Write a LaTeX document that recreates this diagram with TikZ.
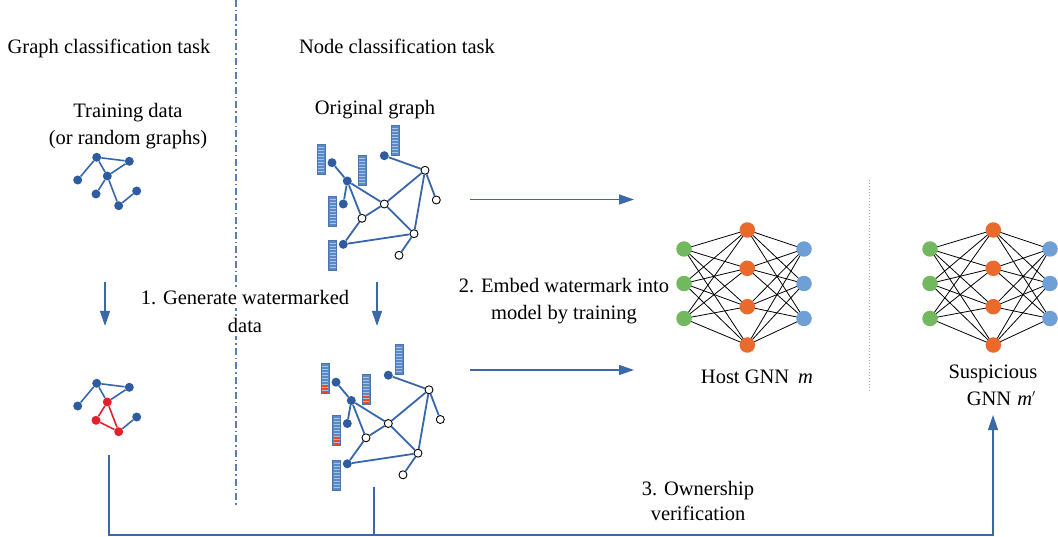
\documentclass[tikz,border=0pt]{standalone}
\usepackage{fontspec}
\setmainfont{Liberation Serif}
\usetikzlibrary{arrows.meta,calc,backgrounds}
\definecolor{gblue}{HTML}{3767AA}
\definecolor{gnode}{HTML}{2F5C9E}
\definecolor{arrblue}{HTML}{3A68A8}
\definecolor{barfill}{HTML}{5A89C8}
\definecolor{barline}{HTML}{A9C2E6}
\definecolor{barred}{HTML}{F0471C}
\definecolor{wred}{HTML}{E3202C}
\definecolor{nngreen}{HTML}{72B85F}
\definecolor{nnorange}{HTML}{EA6A2C}
\definecolor{nnblue}{HTML}{6E9FD6}
\definecolor{sepblue}{HTML}{5A7FAE}
\newcommand{\featbar}[3]{%
  \fill[barfill] (#1,#2) rectangle ++(8,30);
  \ifnum#3>0 \fill[barred] (#1+1,#2+30-3*#3) rectangle (#1+7,#2+29);\fi
  \foreach \k in {1,...,9}{\draw[barline, line width=0.6pt] (#1+1,#2+3*\k) -- (#1+7,#2+3*\k);}
  \draw[barfill!85!black, line width=0.6pt] (#1,#2) rectangle ++(8,30);
}
\newcommand{\origgraph}[2]{% prefix, red cells
  \featbar{317.3}{144}{#2}
  \featbar{391.3}{125.3}{0}
  \featbar{358.3}{155}{#2}
  \featbar{328.7}{196}{#2}
  \featbar{328.7}{240.3}{0}
  \node[fnode] (#1A) at (332,162.7) {};
  \node[fnode] (#1B) at (347.3,181) {};
  \node[fnode] (#1C) at (343.3,204) {};
  \node[fnode] (#1D) at (384.3,155.7) {};
  \node[fnode] (#1E) at (343.3,244.3) {};
  \node[wnode] (#1F) at (425,170.3) {};
  \node[wnode] (#1G) at (384.3,204) {};
  \node[wnode] (#1H) at (362,218.3) {};
  \node[wnode] (#1I) at (436.3,200) {};
  \node[wnode] (#1J) at (414,233.7) {};
  \node[wnode] (#1K) at (399,255.3) {};
  \draw[gedge] (#1A) -- (#1B);
  \draw[gedge] (#1B) -- (#1C);
  \draw[gedge] (#1B) -- (#1G);
  \draw[gedge] (#1B) -- (#1H);
  \draw[gedge] (#1D) -- (#1F);
  \draw[gedge] (#1F) -- (#1G);
  \draw[gedge] (#1F) -- (#1I);
  \draw[gedge] (#1F) -- (#1J);
  \draw[gedge] (#1G) -- (#1H);
  \draw[gedge] (#1G) -- (#1J);
  \draw[gedge] (#1H) -- (#1E);
  \draw[gedge] (#1E) -- (#1J);
  \draw[gedge] (#1J) -- (#1K);
}
\newcommand{\nnet}[2]{% prefix, x of input layer
  \foreach \i/\yy in {1/249,2/283.5,3/318.5}{
    \node[nnn, fill=nngreen] (#1g\i) at (#2,\yy) {};
    \node[nnn, fill=nnblue] (#1b\i) at (#2+120,\yy) {};
  }
  \foreach \j/\yy in {1/230,2/268.3,3/306.7,4/345}{
    \node[nnn, fill=nnorange] (#1o\j) at (#2+63.3,\yy) {};
  }
  \begin{scope}[on background layer]
  \foreach \i in {1,2,3}{\foreach \j in {1,2,3,4}{
    \draw[nnedge] (#1g\i.center) -- (#1o\j.center);
    \draw[nnedge] (#1o\j.center) -- (#1b\i.center);
  }}
  \end{scope}
}
\begin{document}
\begin{tikzpicture}[x=1pt,y=-1pt,
  txt/.style={font=\rmfamily\fontsize{20.5}{27.5}\selectfont, inner sep=0pt, anchor=base},
  fnode/.style={circle, fill=gnode, inner sep=0pt, minimum size=9pt},
  wnode/.style={circle, fill=white, draw=black, line width=0.9pt, inner sep=0pt, minimum size=8pt},
  rnode/.style={circle, fill=wred, inner sep=0pt, minimum size=9pt},
  gedge/.style={draw=gblue, line width=1.8pt},
  ledge/.style={draw=gblue, line width=1.6pt},
  redge/.style={draw=wred, line width=1.6pt},
  nnn/.style={circle, inner sep=0pt, minimum size=15.5pt},
  nnedge/.style={draw=black, line width=0.8pt},
  flow/.style={draw=arrblue, line width=1.3pt, -{Triangle[length=15pt,width=10pt]}},
  vline/.style={draw=arrblue, line width=1.3pt},
  cover/.style={fill=white, inner xsep=1pt, inner ysep=3pt},
]
\useasboundingbox (0,0) rectangle (1058,537);
% separators
\coordinate (sepT) at (236,0);
\coordinate (sepB) at (236,505);
\draw[sepblue, line width=1.5pt, dash pattern=on 7pt off 3pt on 1.5pt off 3pt] (sepT) -- (sepB);
\coordinate (dotT) at (869,180);
\coordinate (dotB) at (869,392);
\draw[gray!70, line width=0.9pt, dash pattern=on 1pt off 2pt] (dotT) -- (dotB);

% titles
\node[txt] (t1) at (109,54) {Graph classification task};
\node[txt] (t2) at (397,54) {Node classification task};
\node[txt] (td1) at (128,118) {Training data};
\node[txt] (td2) at (128,145) {(or random graphs)};
\node[txt] (og) at (375,115) {Original graph};

% left graph (top)
\node[fnode] (la) at (96.7,157.3) {};
\node[fnode] (lb) at (129.3,161.3) {};
\node[fnode] (lc) at (77.7,180) {};
\node[fnode] (ld) at (107.3,176) {};
\node[fnode] (le) at (96,194) {};
\node[fnode] (lf) at (136.7,191) {};
\node[fnode] (lg) at (118.7,205.7) {};
\draw[ledge] (la) -- (lb);
\draw[ledge] (la) -- (lc);
\draw[ledge] (la) -- (ld);
\draw[ledge] (lb) -- (ld);
\draw[ledge] (ld) -- (le);
\draw[ledge] (ld) -- (lg);
\draw[ledge] (lg) -- (lf);

% left graph (watermarked)
\node[fnode] (wa) at (96.7,383.3) {};
\node[fnode] (wb) at (129.3,387.3) {};
\node[fnode] (wc) at (77.7,406) {};
\node[rnode] (wd) at (107.3,402) {};
\node[rnode] (we) at (96,420.3) {};
\node[fnode] (wf) at (136.7,417) {};
\node[rnode] (wg) at (118.7,431.7) {};
\draw[ledge] (wa) -- (wb);
\draw[ledge] (wa) -- (wc);
\draw[ledge] (wa) -- (wd);
\draw[ledge] (wb) -- (wd);
\draw[ledge] (wg) -- (wf);
\draw[redge] (wd) -- (we);
\draw[redge] (wd) -- (wg);
\draw[redge] (we) -- (wg);

% original graph and watermarked graph
\begin{scope}
\origgraph{o}{0}
\end{scope}
\begin{scope}[shift={(4,219.5)}]
\origgraph{w}{3}
\end{scope}

% step 1 arrows and label
\coordinate (a1s) at (105,282);
\coordinate (a1e) at (105,326);
\draw[flow] (a1s) -- (a1e);
\coordinate (a2s) at (377,282);
\coordinate (a2e) at (377,326);
\draw[flow] (a2s) -- (a2e);
\node[txt, cover] (s1a) at (245,305) {1. Generate watermarked};
\node[txt, cover] (s1b) at (245,333) {data};

% step 2 arrows and label
\coordinate (h1s) at (470,199.5);
\coordinate (h1e) at (634,199.5);
\draw[flow] (h1s) -- (h1e);
\coordinate (h2s) at (470,370);
\coordinate (h2e) at (634,370);
\draw[flow] (h2s) -- (h2e);
\node[txt] (s2a) at (564,293) {2. Embed watermark into};
\node[txt] (s2b) at (564,320) {model by training};

% networks
\nnet{h}{684}
\nnet{s}{930}
\node[txt] (hl) at (757,384) {Host GNN\hspace{9pt}{\itshape m}};
\node[txt] (sl1) at (993,378) {Suspicious};
\node[txt] (sl2) at (1001,405) {GNN\hspace{6pt}{\itshape m}\raisebox{7pt}{\fontsize{11}{11}\selectfont$\prime$}};

% step 3 verification
\coordinate (v1) at (109,455);
\coordinate (v2) at (109,535);
\coordinate (v3) at (374,487);
\coordinate (v4) at (374,535);
\coordinate (v5) at (993,535);
\coordinate (v6) at (993,415);
\draw[vline] (v3) -- (v4);
\draw[flow] (v1) -- (v2) -- (v5) -- (v6);
\node[txt] (s3a) at (698,495) {3. Ownership};
\node[txt] (s3b) at (698,520) {verification};
\end{tikzpicture}
\end{document}
